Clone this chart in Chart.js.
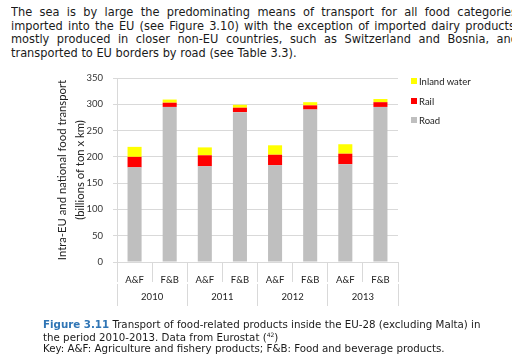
<!DOCTYPE html>
<html>
<head>
<meta charset="utf-8">
<script src="https://cdn.jsdelivr.net/npm/chart.js@4.4.0/dist/chart.umd.min.js"></script>
<style>
  html, body { margin: 0; padding: 0; width: 512px; height: 358px; overflow: hidden; background: #fff; }
  .tl { position: absolute; white-space: nowrap; font-family: "DejaVu Sans", Verdana, sans-serif; color: #1a1a1a; }
  .just { text-align: justify; text-align-last: justify; white-space: normal; }
  #wrap { position: absolute; left: 0; top: 0; width: 512px; height: 358px; }
  #legend { position: absolute; left: 411px; top: 76px; font-family: Lato, "Open Sans", sans-serif; font-size: 9.5px; color: #222; }
  #legend div { height: 19.5px; line-height: 12px; white-space: nowrap; }
  #legend span.sw { display: inline-block; width: 6px; height: 6px; margin-right: 2px; vertical-align: 1px; }
</style>
</head>
<body>
<div id="b1" class="tl just" style="left:11px;top:5px;width:506px;height:14px;overflow:hidden">The sea is by large the predominating means of transport for all food categories</div>
<div id="b2" class="tl just" style="left:11px;top:18.5px;width:504px;height:14px;overflow:hidden">imported into the EU (see Figure 3.10) with the exception of imported dairy products</div>
<div id="b3" class="tl just" style="left:11px;top:32px;width:507px;height:14px;overflow:hidden">mostly produced in closer non-EU countries, such as Switzerland and Bosnia, and</div>
<div id="b4" class="tl" style="left:11px;top:45.5px">transported to EU borders by road (see Table 3.3).</div>
<div id="wrap"><canvas id="c" width="512" height="358"></canvas></div>
<div id="legend"></div>
<div id="c1" class="tl" style="left:43px;top:317px"><b style="color:#2f75b5">Figure 3.11</b> Transport of food-related products inside the EU-28 (excluding Malta) in</div>
<div id="c2" class="tl" style="left:43px;top:328.3px">the period 2010-2013. Data from Eurostat (<sup style="font-size:6px">42</sup>)</div>
<div id="c3" class="tl" style="left:43px;top:340.7px">Key: A&amp;F: Agriculture and fishery products; F&amp;B: Food and beverage products.</div>
<script>
const categories = ['A&F', 'F&B', 'A&F', 'F&B', 'A&F', 'F&B', 'A&F', 'F&B'];
const years = ['2010', '2011', '2012', '2013'];
const road = [180, 295, 182, 285, 184, 290, 186, 295];
const rail = [20, 8, 21, 8.5, 20, 8, 20, 9];
const inlandWater = [19, 6, 15, 5.5, 18, 6, 18, 6];
const yTicks = [0, 50, 100, 150, 200, 250, 300, 350];
const seriesNames = ['Road', 'Rail', 'Inland water'];
const seriesColors = ['#bfbfbf', '#ff0000', '#ffff00'];
const yTitle = ['Intra-EU and national food transport', '(billions of ton x km)'];

// fit text font sizes to the reference widths
function fitFont(ids, refId, target) {
  const ref = document.getElementById(refId);
  ref.style.fontSize = '10px';
  const w = ref.getBoundingClientRect().width;
  const fs = 10 * target / w;
  ids.forEach(id => { const e = document.getElementById(id); e.style.fontSize = fs + 'px'; e.style.lineHeight = '14px'; });
}
fitFont(['b1', 'b2', 'b3', 'b4'], 'b4', 286);
fitFont(['c1', 'c2', 'c3'], 'c3', 402);

const seriesData = [road, rail, inlandWater];
const datasets = seriesNames.map((n, i) => ({
  label: n,
  data: seriesData[i],
  backgroundColor: seriesColors[i],
  borderWidth: 0,
  barPercentage: 0.8,
  categoryPercentage: 0.5,
  xAxisID: 'x'
}));

const leg = document.getElementById('legend');
for (let i = seriesNames.length - 1; i >= 0; i--) {
  const d = document.createElement('div');
  d.innerHTML = '<span class="sw" style="background:' + seriesColors[i] + '"></span>' + seriesNames[i];
  leg.appendChild(d);
}

const tickFont = { family: 'Lato, "Open Sans", sans-serif', size: 9.5 };
const gridColor = '#d9d9d9';

new Chart(document.getElementById('c'), {
  type: 'bar',
  data: { labels: categories, datasets },
  options: {
    responsive: false,
    animation: false,
    events: [],
    layout: { padding: { left: 53, right: 114, top: 78, bottom: 52 } },
    plugins: { legend: { display: false }, tooltip: { enabled: false } },
    scales: {
      y: {
        stacked: true,
        min: 0, max: 350,
        afterBuildTicks: s => { s.ticks = yTicks.map(v => ({ value: v })); },
        afterFit: s => { s.width = 64; },
        ticks: { font: tickFont, color: '#333', padding: 10 },
        grid: { color: gridColor, tickLength: 4, drawTicks: true },
        border: { display: true, color: gridColor },
        title: { display: true, text: yTitle, font: { family: 'Lato, "Open Sans", sans-serif', size: 11.3, lineHeight: 1.6 }, color: '#222', padding: 0 }
      },
      x: {
        stacked: true,
        position: 'bottom',
        afterFit: s => { s.height = 22; },
        ticks: { font: tickFont, color: '#222', padding: -8, maxRotation: 0, autoSkip: false },
        grid: { offset: true, drawOnChartArea: false, tickLength: 20, color: gridColor },
        border: { display: true, color: gridColor }
      },
      x2: {
        type: 'category',
        labels: years,
        position: 'bottom',
        offset: true,
        afterFit: s => { s.height = 22; },
        ticks: { font: tickFont, color: '#222', padding: -15, maxRotation: 0, autoSkip: false },
        grid: { offset: true, drawOnChartArea: false, tickLength: 22, color: gridColor },
        border: { display: false }
      }
    }
  }
});
</script>
</body>
</html>
